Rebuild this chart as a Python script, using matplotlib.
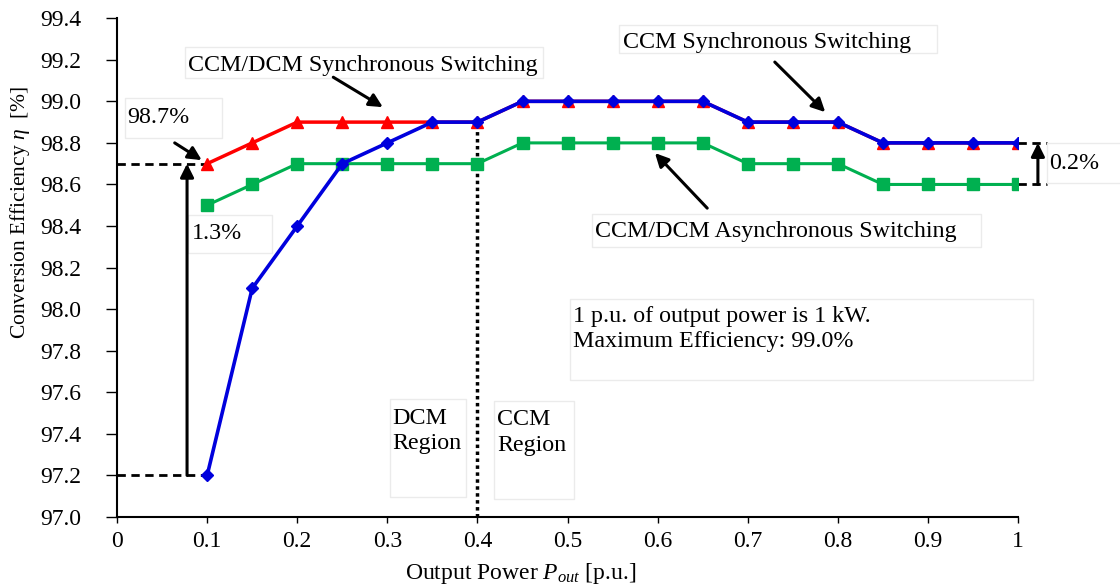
import matplotlib
matplotlib.use("Agg")
import matplotlib.pyplot as plt
from matplotlib.patches import Rectangle

plt.rcParams['font.family'] = ['Liberation Serif', 'DejaVu Serif']
plt.rcParams['mathtext.fontset'] = 'custom'
plt.rcParams['mathtext.rm'] = 'Liberation Serif'
plt.rcParams['mathtext.it'] = 'Liberation Serif:italic'

power = [0.1, 0.15, 0.2, 0.25, 0.3, 0.35, 0.4, 0.45, 0.5, 0.55,
         0.6, 0.65, 0.7, 0.75, 0.8, 0.85, 0.9, 0.95, 1.0]
ccm_dcm_sync = [98.7, 98.8, 98.9, 98.9, 98.9, 98.9, 98.9, 99.0, 99.0, 99.0,
                99.0, 99.0, 98.9, 98.9, 98.9, 98.8, 98.8, 98.8, 98.8]
ccm_sync = [97.2, 98.1, 98.4, 98.7, 98.8, 98.9, 98.9, 99.0, 99.0, 99.0,
            99.0, 99.0, 98.9, 98.9, 98.9, 98.8, 98.8, 98.8, 98.8]
ccm_dcm_async = [98.5, 98.6, 98.7, 98.7, 98.7, 98.7, 98.7, 98.8, 98.8, 98.8,
                 98.8, 98.8, 98.7, 98.7, 98.7, 98.6, 98.6, 98.6, 98.6]
xticks = [0, 0.1, 0.2, 0.3, 0.4, 0.5, 0.6, 0.7, 0.8, 0.9, 1]
xticklabels = ["0", "0.1", "0.2", "0.3", "0.4", "0.5", "0.6", "0.7", "0.8", "0.9", "1"]
yticks = [97.0, 97.2, 97.4, 97.6, 97.8, 98.0, 98.2, 98.4, 98.6, 98.8, 99.0, 99.2, 99.4]

fig = plt.figure(figsize=(11.2, 5.87), dpi=100)
ax = fig.add_axes([0.1045, 0.1193, 0.8045, 0.8497])

ax.plot(power, ccm_dcm_async, color='#00b050', lw=2.2, marker='s', ms=9, zorder=3)
ax.plot(power, ccm_dcm_sync, color='red', lw=2.5, marker='^', ms=9, zorder=4)
ax.plot(power, ccm_sync, color='#0000dd', lw=2.6, marker='D', ms=6.5, zorder=5)

ax.set_xlim(0, 1)
ax.set_ylim(97.0, 99.4)
ax.set_xticks(xticks)
ax.set_xticklabels(xticklabels)
ax.set_yticks(yticks)
ax.set_yticklabels(["%.1f" % v for v in yticks])
ax.tick_params(axis='y', labelsize=17, direction='out', length=8, width=1, pad=18)
ax.tick_params(axis='x', labelsize=17, direction='out', length=4, width=1, pad=6)
for s in ['top', 'right']:
    ax.spines[s].set_visible(False)
for s in ['left', 'bottom']:
    ax.spines[s].set_linewidth(1.5)
ax.set_xlabel(r"Output Power $P_{out}$ [p.u.]", fontsize=17)
ax.set_ylabel(r"Conversion Efficiency $\eta$  [%]", fontsize=15.5)
ax.xaxis.set_label_coords(0.448, -0.088)
ax.yaxis.set_label_coords(-0.094, 0.611)

# guide lines
ax.plot([0, 0.1], [97.2, 97.2], color='k', ls=(0, (3, 2)), lw=2, zorder=2)
ax.plot([0, 0.1], [98.7, 98.7], color='k', ls=(0, (3, 2)), lw=2, zorder=2)
ax.plot([0.4, 0.4], [97.0, 98.9], color='k', ls=(0, (1, 1)), lw=2.5, zorder=2)
ax.plot([1.0, 1.032], [98.8, 98.8], color='k', ls=(0, (3, 2)), lw=2, clip_on=False)
ax.plot([1.0, 1.032], [98.6, 98.6], color='k', ls=(0, (3, 2)), lw=2, clip_on=False)

# text boxes (faint outlines)
boxes = [(0.0755, 99.112, 0.3973, 0.149), (0.557, 99.232, 0.353, 0.135),
         (0.527, 98.299, 0.432, 0.158), (0.0089, 98.823, 0.1076, 0.192),
         (0.0788, 98.270, 0.0932, 0.183), (1.032, 98.607, 0.09, 0.192),
         (0.5028, 97.659, 0.5138, 0.390), (0.303, 97.096, 0.0843, 0.472),
         (0.4184, 97.087, 0.0888, 0.471)]
for bx, by, bw, bh in boxes:
    ax.add_patch(Rectangle((bx, by), bw, bh, fc='white', ec='#ebebeb', lw=1,
                           zorder=5.5, clip_on=False))

arrow = dict(arrowstyle='-|>', color='black', lw=2.2, mutation_scale=20, shrinkA=0, shrinkB=0)
ax.annotate('', xy=(0.0777, 98.7), xytext=(0.0777, 97.2), arrowprops=arrow, zorder=6)
ax.annotate('', xy=(1.022, 98.8), xytext=(1.022, 98.6), arrowprops=arrow,
            annotation_clip=False, zorder=6)
ax.annotate('', xy=(0.094, 98.717), xytext=(0.064, 98.80), arrowprops=arrow, zorder=6)
ax.annotate('', xy=(0.295, 98.972), xytext=(0.240, 99.116), arrowprops=arrow, zorder=6)
ax.annotate('', xy=(0.786, 98.948), xytext=(0.730, 99.189), arrowprops=arrow, zorder=6)
ax.annotate('', xy=(0.597, 98.751), xytext=(0.655, 98.486), arrowprops=arrow, zorder=6)

txt = dict(fontsize=17.3, zorder=6, va='center', clip_on=False)
ax.text(0.0788, 99.174, "CCM/DCM Synchronous Switching", **txt)
ax.text(0.5616, 99.285, "CCM Synchronous Switching", **txt)
ax.text(0.5305, 98.376, "CCM/DCM Asynchronous Switching", **txt)
ax.text(0.011, 98.924, "98.7%", **txt)
ax.text(0.0832, 98.366, "1.3%", **txt)
ax.text(1.034, 98.703, "0.2%", **txt)
ax.text(0.506, 97.904, "1 p.u. of output power is 1 kW.\nMaximum Efficiency: 99.0%",
        linespacing=1.3, **txt)
ax.text(0.305, 97.414, "DCM\nRegion", linespacing=1.3, **txt)
ax.text(0.4218, 97.405, "CCM\nRegion", linespacing=1.3, **txt)

fig.savefig("out.png", dpi=100)
